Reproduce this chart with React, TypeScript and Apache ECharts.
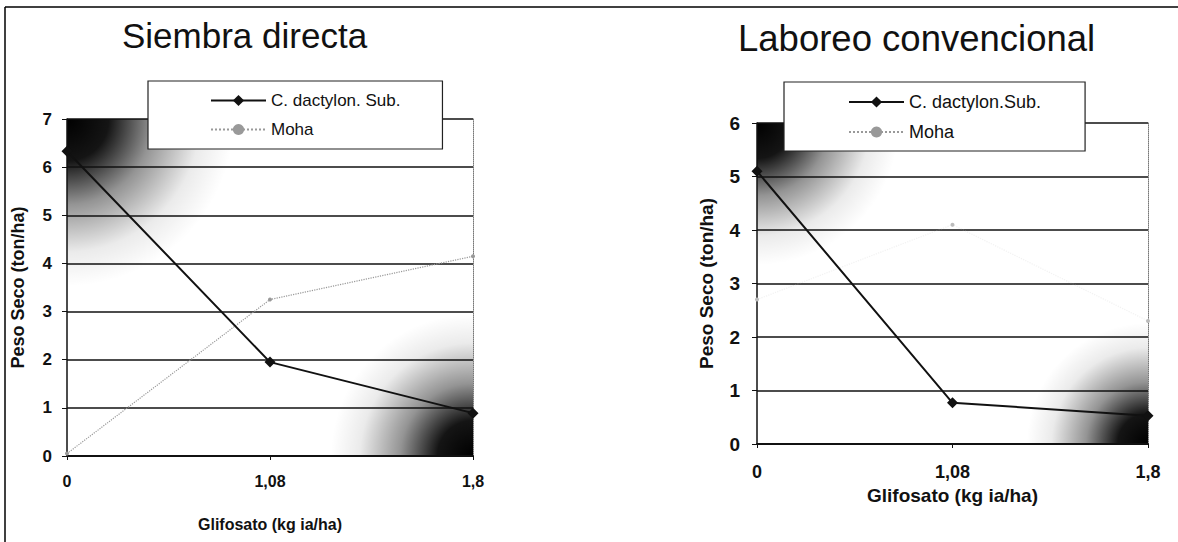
import React, { useEffect, useRef } from "react";
import * as echarts from "echarts";

const doseLabels = ["0", "1,08", "1,8"];
const sdDactylon = [6.33, 1.95, 0.89];
const sdMoha = [0.05, 3.25, 4.15];
const lcDactylon = [5.1, 0.77, 0.53];
const lcMoha = [2.7, 4.1, 2.3];

const leftTitle = "Siembra directa";
const rightTitle = "Laboreo convencional";
const yName = "Peso Seco (ton/ha)";
const xName = "Glifosato (kg ia/ha)";
const sdDactylonName = "C. dactylon. Sub.";
const lcDactylonName = "C. dactylon.Sub.";
const mohaName = "Moha";

const FONT = "'Liberation Sans', Arial, sans-serif";

function shade(x: number, y: number, size: number, cx: number, cy: number, r: number) {
  return {
    type: "rect",
    z: 0,
    silent: true,
    shape: { x, y, width: size, height: size },
    style: {
      fill: new echarts.graphic.RadialGradient(cx, cy, r, [
        { offset: 0, color: "rgba(0,0,0,1)" },
        { offset: 0.22, color: "rgba(0,0,0,0.92)" },
        { offset: 0.45, color: "rgba(0,0,0,0.42)" },
        { offset: 0.7, color: "rgba(0,0,0,0.08)" },
        { offset: 0.88, color: "rgba(0,0,0,0)" },
        { offset: 1, color: "rgba(0,0,0,0)" },
      ]),
    },
  };
}

export default function App() {
  const ref = useRef<HTMLDivElement>(null);
  useEffect(() => {
    if (!ref.current) return;
    const chart = echarts.init(ref.current, null, { renderer: "svg" });
    const yAxisBase = (gridIndex: number, max: number, fs: number, margin: number, gap: number, nfs: number) => ({
      type: "value",
      gridIndex,
      min: 0,
      max,
      interval: 1,
      name: yName,
      nameLocation: "middle",
      nameGap: gap,
      nameTextStyle: { fontFamily: FONT, fontWeight: "bold", fontSize: nfs, color: "#111" },
      axisLine: { show: true, lineStyle: { color: "#111", width: 1.5 } },
      axisTick: { show: true, length: 5, lineStyle: { color: "#111" } },
      axisLabel: { fontFamily: FONT, fontWeight: "bold", fontSize: fs, color: "#111", margin },
      splitLine: { show: true, lineStyle: { color: "#111", width: 1.6 } },
    });
    const yRightEdge = (gridIndex: number, max: number) => ({
      type: "value",
      gridIndex,
      min: 0,
      max,
      interval: 1,
      position: "right",
      axisLine: { show: true, lineStyle: { color: "#777", width: 1, type: "dotted" } },
      axisTick: { show: false },
      axisLabel: { show: false },
      splitLine: { show: false },
    });
    const xAxisBase = (gridIndex: number, fs: number, margin: number, gap: number, nfs: number) => ({
      type: "category",
      gridIndex,
      data: doseLabels,
      boundaryGap: false,
      name: xName,
      nameLocation: "middle",
      nameGap: gap,
      nameTextStyle: { fontFamily: FONT, fontWeight: "bold", fontSize: nfs, color: "#111" },
      axisLine: { show: true, lineStyle: { color: "#111", width: 1.8 } },
      axisTick: { show: true, length: 4, lineStyle: { color: "#111" } },
      axisLabel: { fontFamily: FONT, fontWeight: "bold", fontSize: fs, color: "#111", margin },
      splitLine: { show: false },
    });
    const dact = (name: string, data: number[], xi: number, yi: number) => ({
      type: "line",
      name,
      data,
      xAxisIndex: xi,
      yAxisIndex: yi,
      z: 5,
      symbol: "diamond",
      symbolSize: 11,
      itemStyle: { color: "#111" },
      lineStyle: { color: "#111", width: 2 },
    });
    const moha = (data: number[], xi: number, yi: number, lineColor: string, markColor: string, op: number) => ({
      type: "line",
      name: mohaName,
      data,
      xAxisIndex: xi,
      yAxisIndex: yi,
      z: 4,
      symbol: "circle",
      symbolSize: 4,
      itemStyle: { color: markColor },
      lineStyle: { color: lineColor, width: 1.2, type: "dotted", opacity: op },
    });
    const legendBase = (left: number, top: number, names: string[], padding: number[], fs: number) => ({
      left,
      top,
      orient: "vertical",
      data: names,
      itemWidth: 55,
      itemHeight: 14,
      itemGap: 12,
      padding,
      borderColor: "#222",
      borderWidth: 1.2,
      backgroundColor: "#fff",
      selectedMode: false,
      textStyle: { fontFamily: FONT, fontSize: fs, color: "#111" },
      z: 10,
    });
    chart.setOption({
      animation: false,
      backgroundColor: "#fff",
      title: [
        { text: leftTitle, left: 117, top: 13, textStyle: { fontFamily: FONT, fontSize: 35, fontWeight: "normal", color: "#111" } },
        { text: rightTitle, left: 733, top: 15, textStyle: { fontFamily: FONT, fontSize: 36.5, fontWeight: "normal", color: "#111" } },
      ],
      legend: [
        legendBase(148, 81, [sdDactylonName, mohaName], [11, 42, 11, 62], 17),
        legendBase(784, 82, [lcDactylonName, mohaName], [11, 44, 10, 64], 18),
      ],
      grid: [
        { left: 67, top: 119, width: 406, height: 337 },
        { left: 757, top: 123, width: 391, height: 321 },
      ],
      xAxis: [xAxisBase(0, 16, 17, 60, 16), xAxisBase(1, 18, 19, 42, 19)],
      yAxis: [yAxisBase(0, 7, 17, 15, 40, 18), yAxisBase(1, 6, 19, 17, 41, 19), yRightEdge(0, 7), yRightEdge(1, 6)],
      series: [
        dact(sdDactylonName, sdDactylon, 0, 0),
        moha(sdMoha, 0, 0, "#999", "#999", 1),
        dact(lcDactylonName, lcDactylon, 1, 1),
        moha(lcMoha, 1, 1, "#ccc", "#bbb", 0.25),
      ],
      graphic: [
        { type: "line", silent: true, shape: { x1: 5, y1: 7, x2: 1178, y2: 7 }, style: { stroke: "#000", lineWidth: 1.5 } },
        { type: "line", silent: true, shape: { x1: 5, y1: 7, x2: 5, y2: 542 }, style: { stroke: "#000", lineWidth: 1.5 } },
        shade(67, 119, 200, 0, 0, 0.95),
        shade(303, 286, 170, 1, 1, 0.95),
        shade(757, 123, 170, 0, 0, 0.95),
        shade(1003, 299, 145, 1, 1, 0.95),
      ],
    });
    return () => chart.dispose();
  }, []);
  return <div ref={ref} style={{ position: "fixed", left: 0, top: 0, width: 1178, height: 542 }} />;
}
